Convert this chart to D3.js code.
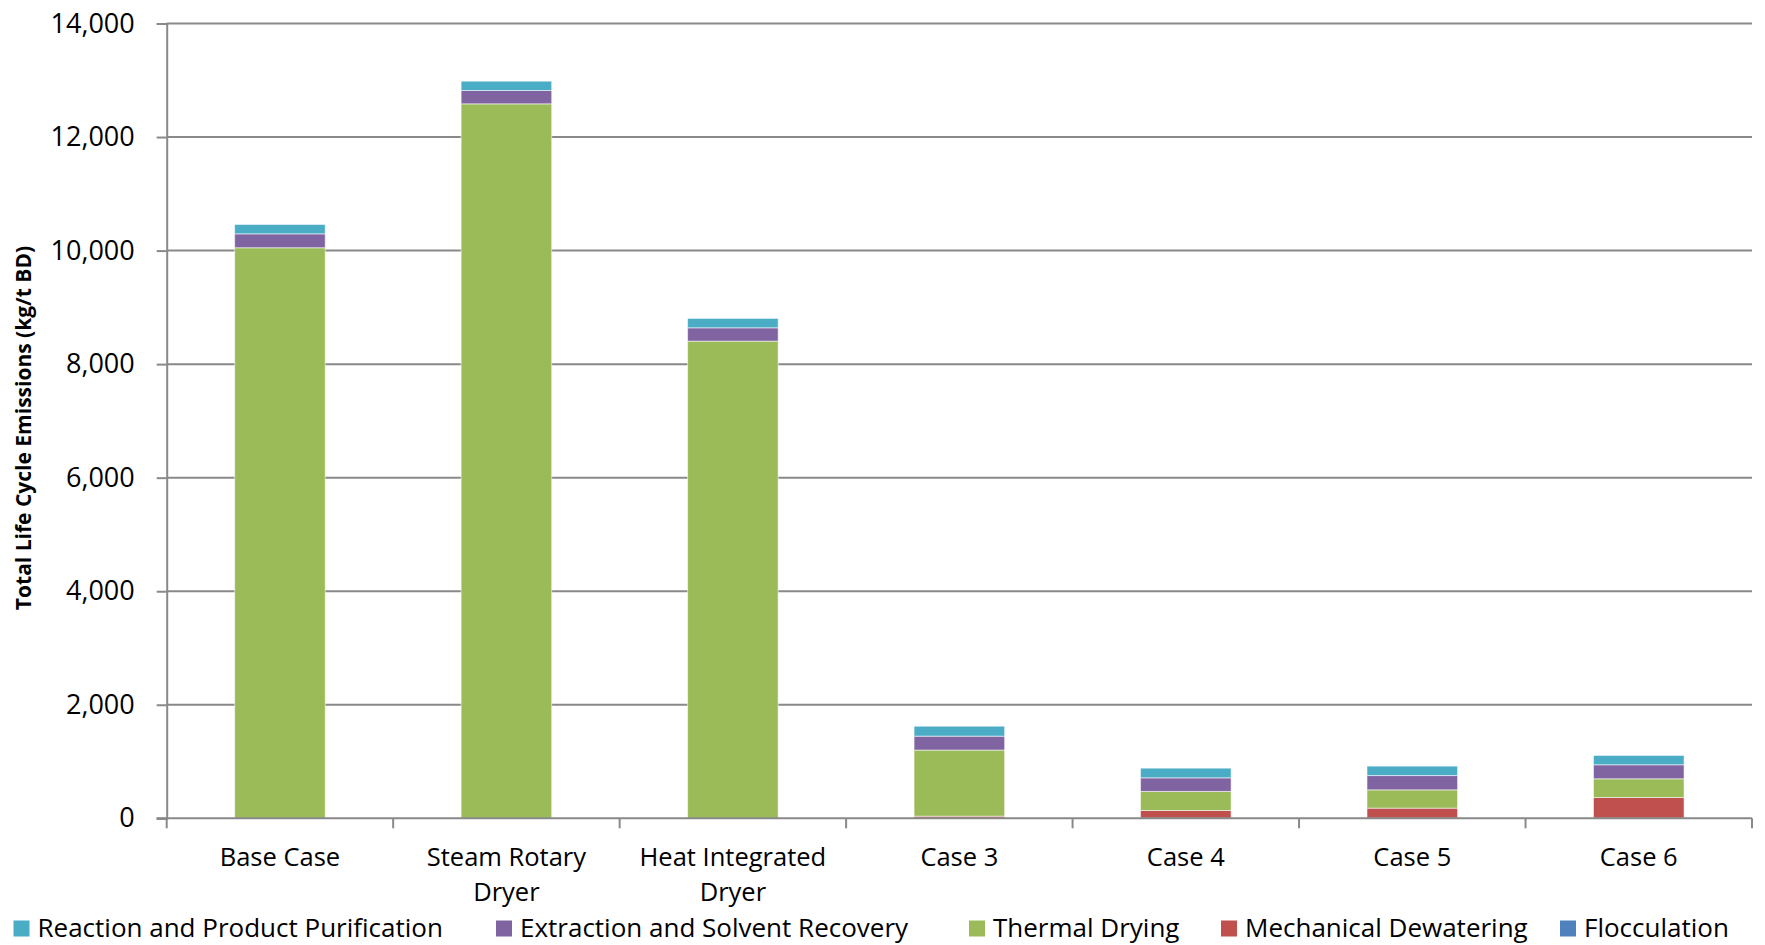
<!DOCTYPE html>
<html>
<head>
<meta charset="utf-8">
<script src="https://cdn.jsdelivr.net/npm/d3@7/dist/d3.min.js"></script>
<style>
  html, body { margin: 0; padding: 0; background: #ffffff; }
  svg { display: block; font-family: "Open Sans", "Noto Sans", sans-serif; }
</style>
</head>
<body>
<svg id="chart" width="1765" height="945"></svg>
<script>
// Process steps (bottom of stack first) and their emissions per case, kg/t BD
const categories = ["Base Case", "Steam Rotary\nDryer", "Heat Integrated\nDryer", "Case 3", "Case 4", "Case 5", "Case 6"];
const flocculation = [0, 0, 0, 2, 3, 3, 4];
const mechanicalDewatering = [0, 0, 0, 35, 135, 176, 363];
const thermalDrying = [10050, 12585, 8405, 1165, 335, 322, 329];
const extractionSolventRecovery = [245, 235, 235, 245, 240, 252, 247];
const reactionPurification = [165, 164, 165, 175, 170, 166, 164];
const yTicks = [0, 2000, 4000, 6000, 8000, 10000, 12000, 14000];

const seriesNames = ["Flocculation", "Mechanical Dewatering", "Thermal Drying",
  "Extraction and Solvent Recovery", "Reaction and Product Purification"];
const seriesValues = [flocculation, mechanicalDewatering, thermalDrying,
  extractionSolventRecovery, reactionPurification];
const seriesColors = ["#4F81BD", "#C0504D", "#9BBB59", "#8064A2", "#4BACC6"];

const rows = categories.map((c, i) => {
  const r = { category: c };
  seriesNames.forEach((s, k) => { r[s] = seriesValues[k][i]; });
  return r;
});

const svg = d3.select("#chart");
svg.append("rect").attr("width", 1765).attr("height", 945).attr("fill", "#ffffff");

const plotLeft = 166.7, plotRight = 1752, plotTop = 23.5, plotBottom = 818.3;
const gridColor = "#898989";

const x = d3.scaleBand().domain(categories).range([plotLeft, plotRight])
  .paddingInner(0.6).paddingOuter(0.3);
const y = d3.scaleLinear().domain([0, 14000]).range([plotBottom, plotTop]);
const color = d3.scaleOrdinal().domain(seriesNames).range(seriesColors);

// Horizontal gridlines
svg.append("g").selectAll("line").data(yTicks.filter(t => t > 0)).join("line")
  .attr("x1", plotLeft).attr("x2", plotRight)
  .attr("y1", d => y(d)).attr("y2", d => y(d))
  .attr("stroke", gridColor).attr("stroke-width", 2);

// Stacked bars
const stacked = d3.stack().keys(seriesNames)(rows);
svg.append("g").selectAll("g").data(stacked).join("g")
  .attr("fill", d => color(d.key))
  .selectAll("rect").data(d => d).join("rect")
  .attr("x", d => x(d.data.category))
  .attr("width", x.bandwidth())
  .attr("y", d => y(d[1]))
  .attr("height", d => Math.max(0, y(d[0]) - y(d[1])))
  .attr("stroke", "rgba(255,255,255,0.55)")
  .attr("stroke-width", 1);

// Y axis
const yAxis = svg.append("g").attr("transform", `translate(${plotLeft},0)`)
  .call(d3.axisLeft(y).tickValues(yTicks).tickFormat(d3.format(",")).tickSize(10).tickPadding(22));
yAxis.select(".domain").attr("stroke", gridColor).attr("stroke-width", 2);
yAxis.selectAll(".tick line").attr("stroke", gridColor).attr("stroke-width", 2);
yAxis.selectAll(".tick text").attr("font-size", 27).attr("fill", "#000")
  .attr("font-family", "'Open Sans', 'Noto Sans', sans-serif");

// X axis: baseline with ticks between categories
const xAxis = svg.append("g");
xAxis.append("line").attr("x1", plotLeft - 10).attr("x2", plotRight)
  .attr("y1", plotBottom).attr("y2", plotBottom)
  .attr("stroke", gridColor).attr("stroke-width", 2);
const boundaries = d3.range(categories.length + 1).map(i => plotLeft + i * x.step());
xAxis.selectAll("line.sep").data(boundaries).join("line").attr("class", "sep")
  .attr("x1", d => d).attr("x2", d => d)
  .attr("y1", plotBottom).attr("y2", plotBottom + 10)
  .attr("stroke", gridColor).attr("stroke-width", 2);

const labels = xAxis.selectAll("text.cat").data(categories).join("text").attr("class", "cat")
  .attr("x", d => x(d) + x.bandwidth() / 2)
  .attr("y", 866)
  .attr("text-anchor", "middle").attr("font-size", 25.5).attr("fill", "#000");
labels.each(function(d) {
  const t = d3.select(this);
  d.split("\n").forEach((line, i) => {
    t.append("tspan").attr("x", x(d) + x.bandwidth() / 2).attr("y", 866 + i * 35).text(line);
  });
});

// Y axis title
svg.append("text")
  .attr("transform", "translate(23,428) rotate(-90)")
  .attr("text-anchor", "middle").attr("dominant-baseline", "central")
  .attr("font-size", 21).attr("font-weight", "bold").attr("fill", "#000")
  .text("Total Life Cycle Emissions (kg/t BD)");

// Legend (top of stack first)
const legendOrder = seriesNames.slice().reverse();
const legendX = [13.5, 496, 969, 1221, 1560];
const legend = svg.append("g").selectAll("g").data(legendOrder).join("g")
  .attr("transform", (d, i) => `translate(${legendX[i]},920.5)`);
legend.append("rect").attr("width", 16).attr("height", 16).attr("fill", d => color(d));
legend.append("text").attr("x", 24).attr("y", 16.5)
  .attr("font-size", 26).attr("fill", "#000").text(d => d);
</script>
</body>
</html>
